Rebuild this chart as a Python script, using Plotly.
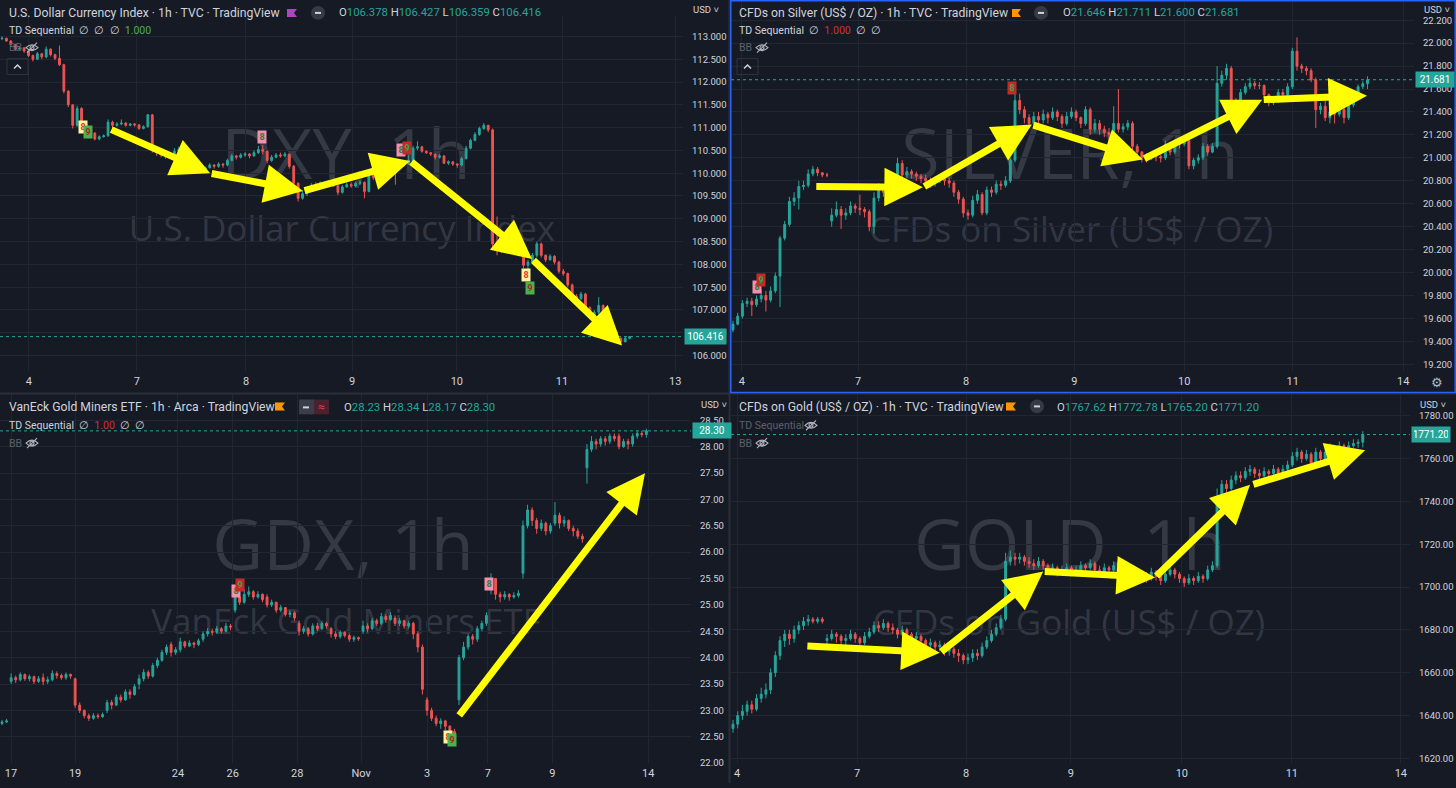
import plotly.graph_objects as go

# ---------------------------------------------------------------- data
dxy_open0 = 112.95
dxy_close = [112.96,112.90,112.82,112.72,112.75,112.68,112.58,112.50,112.62,112.55,
 112.72,112.60,112.52,112.38,111.80,111.50,111.05,111.42,111.08,110.95,
 110.88,110.75,110.80,110.82,111.12,111.05,111.08,111.10,111.05,111.08,
 111.06,110.98,111.02,111.28,110.50,110.45,110.40,110.38,110.42,110.48,
 110.52,110.38,110.30,110.15,110.05,110.08,110.12,110.18,110.15,110.20,
 110.18,110.28,110.38,110.35,110.40,110.42,110.38,110.45,110.52,110.48,
 110.28,110.35,110.40,110.38,110.42,110.15,109.78,109.45,109.55,109.62,
 109.72,109.70,109.78,109.75,109.80,109.72,109.58,109.70,109.75,109.72,
 109.78,109.80,109.60,109.95,109.90,109.98,110.05,110.12,110.28,110.22,
 110.25,110.20,110.28,110.55,110.58,110.48,110.45,110.42,110.35,110.38,
 110.22,110.25,110.20,110.18,110.32,110.55,110.72,110.85,110.98,111.05,
 110.95,108.45,108.30,108.35,108.40,108.35,108.30,108.28,107.98,108.05,
 108.20,108.45,108.20,108.10,108.18,108.05,107.85,107.80,107.55,107.30,
 107.25,107.35,107.05,106.85,106.95,107.10,106.75,106.62,106.52,106.38,
 106.30,106.378,106.416]
dxy_high = [113.00,112.97,112.92,112.84,112.78,112.76,112.70,112.60,112.66,112.64,
 112.78,112.74,112.62,112.80,112.40,111.82,111.50,111.48,111.45,111.15,
 111.00,110.90,110.83,110.85,111.18,111.15,111.12,111.18,111.12,111.10,
 111.10,111.08,111.05,111.30,111.30,110.55,110.50,110.45,110.46,110.55,
 110.58,110.55,110.42,110.32,110.18,110.12,110.15,110.22,110.20,110.24,
 110.22,110.32,110.42,110.40,110.44,110.46,110.44,110.50,110.60,110.62,
 110.50,110.40,110.44,110.45,110.46,110.42,110.18,109.80,109.62,109.66,
 109.78,109.80,109.82,109.80,109.85,109.82,109.75,109.74,109.80,109.80,
 109.82,109.85,109.82,110.00,109.98,110.02,110.10,110.18,110.32,110.32,
 110.30,110.28,110.40,110.60,110.70,110.60,110.50,110.46,110.42,110.42,
 110.40,110.28,110.26,110.22,110.36,110.60,110.76,110.90,111.02,111.10,
 111.06,110.98,109.05,108.40,108.45,108.42,108.38,108.35,108.30,108.10,
 108.25,108.50,108.48,108.22,108.22,108.20,108.08,107.90,107.82,107.58,
 107.35,107.40,107.38,107.08,107.00,107.28,107.12,106.78,106.65,106.55,
 106.40,106.43,106.427]
dxy_low = [112.92,112.88,112.80,112.68,112.70,112.64,112.55,112.45,112.48,112.50,
 112.52,112.56,112.48,112.35,111.75,111.45,110.98,111.02,111.00,110.90,
 110.82,110.72,110.72,110.78,110.80,111.00,111.02,111.05,111.02,111.03,
 111.02,110.95,110.96,111.00,110.45,110.38,110.35,110.32,110.35,110.40,
 110.44,110.32,110.20,110.10,110.00,110.02,110.05,110.10,110.10,110.12,
 110.12,110.15,110.26,110.30,110.32,110.36,110.33,110.36,110.42,110.42,
 110.22,110.25,110.33,110.34,110.35,110.10,109.72,109.38,109.42,109.50,
 109.60,109.65,109.68,109.70,109.72,109.70,109.52,109.55,109.68,109.68,
 109.70,109.74,109.45,109.58,109.85,109.88,109.95,110.02,110.10,109.75,
 110.18,110.15,110.18,110.25,110.50,110.45,110.42,110.38,110.30,110.32,
 110.20,110.18,110.16,110.12,110.15,110.30,110.52,110.70,110.82,110.95,
 110.90,108.35,108.20,108.25,108.30,108.30,108.25,108.20,107.92,107.90,
 108.02,108.15,108.15,108.05,108.08,108.00,107.80,107.75,107.50,107.25,
 107.20,107.22,107.00,106.80,106.82,106.90,106.70,106.58,106.48,106.33,
 106.27,106.30,106.359]
dxy_gap_open = {}
dxy_tick_pos = [6.1, 30.5, 55.2, 79.2, 102.9, 126.7, 152.3]
dxy_tick_lab = ["4", "7", "8", "9", "10", "11", "13"]

silver_open0 = 19.50
silver_close = [19.55,19.62,19.73,19.75,19.72,19.77,19.80,19.76,19.84,19.97,
 20.30,20.42,20.62,20.65,20.75,20.76,20.86,20.90,20.87,20.85,
 20.85,20.50,20.55,20.50,20.52,20.58,20.56,20.55,20.53,20.40,
 20.65,20.73,20.70,20.67,20.75,20.95,20.85,20.88,20.86,20.84,
 20.82,20.80,20.78,20.80,20.82,20.80,20.78,20.70,20.64,20.52,
 20.50,20.63,20.68,20.52,20.72,20.70,20.77,20.76,20.80,20.98,
 21.50,21.42,21.35,21.30,21.36,21.33,21.38,21.35,21.40,21.36,
 21.30,21.36,21.40,21.35,21.30,21.42,21.25,21.30,21.25,21.22,
 21.20,21.30,21.25,21.27,21.30,21.10,21.05,21.00,21.00,21.02,
 21.01,21.00,21.12,21.05,21.13,21.12,21.15,20.93,20.98,21.00,
 21.10,21.05,21.10,21.65,21.72,21.78,21.50,21.45,21.57,21.62,
 21.65,21.63,21.63,21.55,21.48,21.50,21.57,21.55,21.62,21.93,
 21.80,21.78,21.76,21.68,21.42,21.45,21.35,21.40,21.38,21.42,
 21.35,21.46,21.55,21.62,21.646,21.681]
silver_high = [19.58,19.65,19.76,19.78,19.78,19.80,19.85,19.84,19.88,20.00,
 20.32,20.45,20.66,20.70,20.80,20.80,20.90,20.93,20.92,20.87,
 20.87,20.56,20.62,20.58,20.56,20.62,20.60,20.68,20.57,20.55,
 20.70,20.78,20.76,20.72,20.78,21.00,20.98,20.92,20.90,20.88,
 20.86,20.85,20.83,20.84,20.86,20.85,20.83,20.80,20.72,20.66,
 20.55,20.67,20.72,20.70,20.75,20.75,20.80,20.80,20.84,21.00,
 21.58,21.56,21.45,21.38,21.40,21.40,21.42,21.40,21.44,21.42,
 21.38,21.40,21.44,21.42,21.36,21.45,21.44,21.34,21.33,21.28,
 21.26,21.45,21.60,21.30,21.33,21.32,21.12,21.06,21.04,21.05,
 21.04,21.03,21.15,21.14,21.16,21.15,21.18,21.16,21.00,21.03,
 21.13,21.12,21.13,21.80,21.76,21.82,21.80,21.52,21.60,21.65,
 21.70,21.67,21.66,21.64,21.56,21.52,21.60,21.60,21.65,21.96,
 22.05,21.82,21.80,21.78,21.70,21.48,21.50,21.43,21.45,21.45,
 21.45,21.48,21.58,21.64,21.67,21.711]
silver_low = [19.48,19.54,19.60,19.70,19.62,19.70,19.74,19.66,19.74,19.82,
 19.70,20.28,20.40,20.58,20.55,20.72,20.74,20.84,20.84,20.83,
 20.83,20.40,20.48,20.38,20.46,20.50,20.52,20.50,20.48,20.36,
 20.34,20.62,20.66,20.62,20.64,20.72,20.82,20.82,20.82,20.80,
 20.78,20.76,20.74,20.75,20.78,20.76,20.74,20.66,20.60,20.48,
 20.46,20.48,20.60,20.50,20.50,20.66,20.68,20.72,20.74,20.78,
 20.96,21.38,21.30,21.26,21.28,21.30,21.30,21.30,21.33,21.32,
 21.26,21.28,21.34,21.32,21.26,21.28,21.20,21.22,21.20,21.18,
 21.15,21.18,21.22,21.22,21.24,21.06,21.00,20.96,20.96,20.98,
 20.97,20.96,20.98,21.02,21.03,21.08,21.10,20.90,20.90,20.95,
 20.98,21.02,21.04,21.08,21.62,21.68,21.46,21.42,21.44,21.55,
 21.60,21.60,21.60,21.52,21.45,21.46,21.48,21.52,21.50,21.60,
 21.76,21.74,21.72,21.66,21.26,21.38,21.32,21.30,21.30,21.36,
 21.30,21.33,21.44,21.52,21.60,21.60]
silver_gap_open = {21: 20.45}
silver_tick_pos = [1.9, 26.6, 49.6, 72.6, 96.0, 119.1, 142.6]
silver_tick_lab = ["4", "7", "8", "9", "10", "11", "14"]

gdx_open0 = 22.75
gdx_close = [22.78,22.80,
 23.62,23.58,23.68,23.60,23.64,23.55,23.60,
 23.55,23.58,23.70,23.66,23.62,23.68,23.65,
 23.10,23.00,22.90,22.85,22.90,22.88,22.92,
 23.15,23.10,23.25,23.20,23.35,23.30,23.45,
 23.60,23.72,23.65,23.85,23.95,24.10,24.20,
 24.10,24.15,24.30,24.22,24.28,24.25,24.32,
 24.45,24.50,24.48,24.55,24.50,24.60,24.58,
 25.15,25.05,25.20,25.25,25.15,25.20,25.10,
 25.00,25.05,24.90,24.95,24.82,24.85,24.75,
 24.50,24.55,24.45,24.60,24.55,24.65,24.60,
 24.45,24.40,24.48,24.42,24.35,24.38,24.36,
 24.60,24.55,24.70,24.65,24.78,24.72,24.80,
 24.65,24.70,24.60,24.65,24.45,24.20,23.40,
 23.00,22.85,22.75,22.80,22.70,22.60,22.55,
 24.00,24.20,24.40,24.35,24.55,24.65,24.80,
 25.50,25.20,25.15,25.20,25.15,25.18,25.22,
 26.50,26.80,26.60,26.45,26.55,26.40,26.50,
 26.70,26.55,26.60,26.45,26.40,26.30,26.25,
 27.95,28.10,28.05,28.15,28.10,28.20,28.15,
 28.00,28.10,28.05,28.20,28.25,28.23,28.30]
gdx_high = [22.82,22.84,
 23.70,23.66,23.72,23.70,23.68,23.66,23.65,
 23.70,23.64,23.76,23.74,23.70,23.72,23.70,
 23.62,23.15,23.02,22.94,22.95,22.94,22.96,
 23.20,23.20,23.30,23.30,23.40,23.40,23.50,
 23.68,23.78,23.76,23.90,24.00,24.15,24.25,
 24.30,24.20,24.38,24.32,24.33,24.30,24.36,
 24.50,24.56,24.55,24.60,24.58,24.66,24.64,
 25.25,25.20,25.30,25.35,25.28,25.26,25.22,
 25.20,25.10,25.06,25.00,24.96,24.90,24.88,
 24.70,24.60,24.58,24.65,24.66,24.70,24.68,
 24.58,24.50,24.52,24.50,24.45,24.42,24.40,
 24.70,24.65,24.75,24.74,24.85,24.82,24.86,
 24.80,24.75,24.72,24.70,24.68,24.50,24.25,
 23.25,23.05,22.90,22.85,22.82,22.72,22.65,
 24.05,24.30,24.45,24.45,24.60,24.70,24.86,
 25.60,25.50,25.25,25.26,25.22,25.24,25.28,
 26.60,26.90,26.85,26.65,26.62,26.58,26.55,
 26.95,26.75,26.68,26.62,26.50,26.45,26.35,
 28.05,28.20,28.15,28.20,28.20,28.25,28.25,
 28.25,28.15,28.15,28.25,28.30,28.30,28.34]
gdx_low = [22.72,22.76,
 23.50,23.52,23.55,23.56,23.55,23.50,23.52,
 23.48,23.50,23.55,23.60,23.58,23.58,23.60,
 23.05,22.95,22.85,22.80,22.82,22.84,22.86,
 22.95,23.02,23.08,23.15,23.18,23.22,23.28,
 23.40,23.55,23.60,23.62,23.80,23.92,24.05,
 24.02,24.05,24.10,24.18,24.20,24.18,24.22,
 24.30,24.40,24.42,24.45,24.46,24.48,24.52,
 24.85,25.00,25.02,25.15,25.10,25.12,25.05,
 24.95,24.96,24.85,24.86,24.78,24.76,24.70,
 24.42,24.45,24.40,24.42,24.50,24.52,24.55,
 24.38,24.35,24.36,24.38,24.30,24.30,24.32,
 24.45,24.48,24.52,24.60,24.62,24.66,24.70,
 24.60,24.60,24.55,24.55,24.35,24.10,23.30,
 22.90,22.80,22.70,22.65,22.62,22.55,22.48,
 23.10,23.95,24.15,24.25,24.30,24.50,24.60,
 25.20,25.10,25.05,25.10,25.08,25.12,25.14,
 25.50,26.45,26.50,26.35,26.40,26.32,26.35,
 26.50,26.45,26.48,26.40,26.30,26.25,26.18,
 27.30,27.90,27.95,28.00,28.02,28.05,28.10,
 27.95,27.98,27.95,28.00,28.15,28.18,28.17]
gdx_gap_open = {2: 23.55, 9: 23.62, 16: 23.60, 23: 23.00, 30: 23.50, 37: 24.25,
 44: 24.35, 51: 24.90, 58: 25.15, 65: 24.65, 72: 24.55, 79: 24.50, 86: 24.75,
 93: 23.20, 100: 23.20, 107: 25.30, 114: 25.60, 121: 26.55, 128: 27.60, 135: 28.20}
gdx_tick_pos = [1.97, 16.0, 38.5, 50.5, 64.6, 78.6, 93.0, 106.3, 120.4, 141.4]
gdx_tick_lab = ["17", "19", "24", "26", "28", "Nov", "3", "7", "9", "14"]

gold_open0 = 1634
gold_close = [1636,1640,1642,1645,1643,1648,1650,1652,1660,1668,
 1675,1678,1676,1680,1682,1684,1685,1684,1685,1684,
 1676,1678,1677,1675,1676,1678,1676,1674,1677,1679,
 1682,1681,1683,1681,1680,1678,1680,1678,1676,1677,
 1675,1673,1674,1672,1673,1670,1671,1669,1668,1666,
 1667,1669,1668,1672,1675,1678,1681,1685,1712,1714,
 1713,1714,1712,1711,1710,1712,1710,1708,1709,1707,
 1708,1709,1707,1708,1710,1709,1711,1708,1707,1709,
 1708,1710,1711,1709,1708,1707,1705,1706,1704,1707,
 1705,1703,1706,1708,1706,1704,1702,1704,1703,1705,
 1704,1708,1710,1742,1748,1746,1750,1752,1751,1754,
 1755,1753,1752,1754,1753,1755,1752,1755,1757,1761,
 1763,1760,1762,1758,1763,1760,1763,1765,1764,1766,
 1765,1766,1767,1767.62,1771.20]
gold_high = [1638,1642,1645,1647,1647,1650,1653,1655,1662,1670,
 1677,1680,1680,1682,1684,1686,1687,1686,1686,1686,
 1678,1680,1679,1678,1678,1680,1679,1677,1679,1681,
 1684,1684,1685,1684,1683,1681,1682,1681,1679,1679,
 1678,1676,1676,1675,1675,1674,1673,1672,1671,1669,
 1669,1671,1671,1674,1677,1680,1683,1687,1716,1717,
 1716,1716,1715,1714,1713,1714,1713,1711,1711,1710,
 1710,1711,1710,1710,1712,1711,1713,1712,1710,1711,
 1710,1712,1713,1712,1710,1709,1708,1708,1707,1709,
 1708,1706,1708,1710,1709,1707,1705,1706,1705,1707,
 1706,1710,1712,1746,1750,1750,1752,1754,1754,1756,
 1757,1756,1755,1756,1755,1757,1756,1757,1759,1763,
 1765,1764,1764,1763,1765,1764,1765,1767,1766,1768,
 1767,1768,1769,1769,1772.78]
gold_low = [1632,1634,1638,1640,1641,1642,1646,1648,1650,1658,
 1666,1672,1673,1674,1678,1680,1682,1683,1683,1683,
 1673,1675,1674,1672,1673,1675,1674,1672,1673,1676,
 1678,1679,1680,1679,1678,1676,1677,1676,1674,1674,
 1673,1671,1671,1670,1670,1668,1668,1667,1665,1664,
 1664,1665,1666,1667,1671,1674,1677,1680,1684,1710,
 1710,1711,1710,1709,1708,1709,1708,1706,1706,1705,
 1706,1706,1705,1706,1707,1707,1708,1706,1705,1706,
 1706,1707,1709,1707,1706,1705,1703,1703,1702,1703,
 1703,1701,1702,1705,1704,1702,1700,1701,1701,1702,
 1702,1703,1707,1709,1740,1744,1745,1748,1749,1750,
 1752,1751,1750,1751,1751,1752,1750,1751,1754,1756,
 1759,1758,1759,1756,1757,1758,1759,1761,1762,1763,
 1763,1764,1765,1765,1765.20]
gold_gap_open = {20: 1675}
gold_tick_pos = [0.85, 26.4, 49.6, 71.9, 95.5, 118.9, 142.1]
gold_tick_lab = ["4", "7", "8", "9", "10", "11", "14"]

# user-drawn arrows: (tail bar, tail price, tip bar, tip price)
dxy_arrows = [(24.4, 110.97, 47.1, 110.00), (47.1, 110.00, 68.1, 109.61),
              (68.1, 109.61, 92.3, 110.27), (92.3, 110.27, 119.9, 108.12),
              (119.9, 108.12, 140.3, 106.22)]
silver_arrows = [(17.4, 20.751, 40.4, 20.743), (40.4, 20.743, 63.6, 21.290),
                 (63.6, 21.290, 87.2, 20.986), (87.2, 20.986, 112.6, 21.507),
                 (112.6, 21.507, 134.9, 21.542)]
gdx_arrows = [(99.8, 22.875, 140.7, 27.496)]
gold_arrows = [(15.5, 1672.5, 44.0, 1669.3), (44.0, 1669.3, 66.0, 1707.3),
               (66.0, 1707.3, 89.8, 1704.5), (89.8, 1704.5, 110.0, 1747.7),
               (110.4, 1747.7, 134.5, 1763.9)]

# TD Sequential counts: (bar, price, digit, kind)
dxy_td = [(18.4, 111.02, "8", "buy8"), (19.5, 110.90, "9", "buy9"),
          (58.8, 110.80, "8", "sell8"), (90.3, 110.51, "8", "sell8"),
          (91.6, 110.55, "9", "sell9"), (118.6, 107.76, "8", "buy8"),
          (119.5, 107.49, "9", "buy9")]
silver_td = [(5.0, 19.878, "8", "sell8"), (6.0, 19.935, "9", "sell9"),
             (59.4, 21.61, "8", "sell9")]
gdx_td = [(51.2, 25.26, "8", "sell8"), (52.1, 25.375, "9", "sell9"),
          (106.6, 25.39, "8", "sell8"), (97.6, 22.49, "8", "buy8"),
          (98.5, 22.44, "9", "buy9")]
gold_td = []

# ---------------------------------------------------------------- style
W, H = 1456, 788
BG = "#161a25"
GRID = "#222632"
TXT = "#d1d4dc"
DIM = "#5d606b"
UP = "#26a69a"
DN = "#ef5350"
WMC = "rgba(125,129,141,0.30)"
YEL = "#ffff00"
FONT = "Roboto, sans-serif"
WMFONT = "Open Sans, sans-serif"
NUMFONT = "Roboto, sans-serif"
TDSTYLE = {"buy8": ("#fff59d", "#e53935"), "buy9": ("#4caf50", "#b71c1c"),
           "sell8": ("#f48fb1", "#2e7d32"), "sell9": ("#c62828", "#43a047")}


def X(p):
    return p / W


def Y(p):
    return 1 - p / H


def path(*segs):
    out = []
    for s in segs:
        nums = s[1:]
        pts = ["%.5f,%.5f" % (X(nums[i]), Y(nums[i + 1])) for i in range(0, len(nums), 2)]
        out.append(s[0] + " ".join(pts))
    return " ".join(out)


# box = (left px, right px, top px, bottom px) of each price pane; hdr = pane top for the header items
panels = [
    dict(o0=dxy_open0, c=dxy_close, h=dxy_high, l=dxy_low, gaps=dxy_gap_open,
         box=(0, 683, 16, 373), hdr=0, ppb=4.42, xf=2.0, yr=(105.67, 113.45), dtick=0.5, fmt=".3f",
         tv=dxy_tick_pos, tt=dxy_tick_lab, arrows=dxy_arrows, td=dxy_td, dec=3),
    dict(o0=silver_open0, c=silver_close, h=silver_high, l=silver_low, gaps=silver_gap_open,
         box=(731, 1414, 0, 373), hdr=0, ppb=4.70, xf=733.0, yr=(19.145, 22.376), dtick=0.2, fmt=".3f",
         tv=silver_tick_pos, tt=silver_tick_lab, arrows=silver_arrows, td=silver_td, dec=3),
    dict(o0=gdx_open0, c=gdx_close, h=gdx_high, l=gdx_low, gaps=gdx_gap_open,
         box=(0, 691, 397, 768), hdr=397, ppb=4.57, xf=2.0, yr=(22.00, 28.99), dtick=0.5, fmt=".2f",
         tv=gdx_tick_pos, tt=gdx_tick_lab, arrows=gdx_arrows, td=gdx_td, dec=2),
    dict(o0=gold_open0, c=gold_close, h=gold_high, l=gold_low, gaps=gold_gap_open,
         box=(731, 1410, 397, 768), hdr=397, ppb=4.70, xf=733.0, yr=(1617.8, 1789.9), dtick=20, fmt=".2f",
         tv=gold_tick_pos, tt=gold_tick_lab, arrows=gold_arrows, td=gold_td, dec=2),
]

fig = go.Figure()
layout = dict(width=W, height=H, margin=dict(l=0, r=0, t=0, b=0),
              paper_bgcolor=BG, plot_bgcolor="rgba(0,0,0,0)", showlegend=False,
              boxgap=0.42, hovermode=False)
shapes = []
ann = []

for k, p in enumerate(panels):
    sfx = "" if k == 0 else str(k + 1)
    xa, ya = "x" + sfx, "y" + sfx
    n = len(p["c"])
    opens = [p["o0"]] + p["c"][:-1]
    for i, v in p["gaps"].items():
        opens[i] = v
    hi = [max(a, b, c) for a, b, c in zip(p["h"], opens, p["c"])]
    lo = [min(a, b, c) for a, b, c in zip(p["l"], opens, p["c"])]
    p["opens"], p["hi"], p["lo"] = opens, hi, lo
    fig.add_trace(go.Candlestick(
        x=list(range(n)), open=opens, high=hi, low=lo, close=p["c"],
        xaxis=xa, yaxis=ya, whiskerwidth=0, hoverinfo="skip", showlegend=False,
        increasing=dict(line=dict(color=UP, width=1), fillcolor=UP),
        decreasing=dict(line=dict(color=DN, width=1), fillcolor=DN)))
    x0p, x1p, y0p, y1p = p["box"]
    layout["xaxis" + sfx] = dict(
        domain=[x0p / W, x1p / W], range=[(x0p - p["xf"]) / p["ppb"], (x1p - p["xf"]) / p["ppb"]],
        anchor=ya, tickmode="array", tickvals=p["tv"], ticktext=p["tt"],
        showgrid=True, gridcolor=GRID, gridwidth=1, zeroline=False, showline=False, ticks="",
        tickfont=dict(size=11, color=TXT, family=FONT), ticklabelstandoff=2,
        rangeslider=dict(visible=False), fixedrange=True)
    layout["yaxis" + sfx] = dict(
        domain=[1 - y1p / H, 1 - y0p / H], range=list(p["yr"]), anchor=xa, side="right",
        dtick=p["dtick"], tick0=0, tickformat=p["fmt"], showgrid=True, gridcolor=GRID, gridwidth=1,
        zeroline=False, showline=False, ticks="", ticklabelstandoff=8,
        tickfont=dict(size=9.5, color=TXT, family=NUMFONT), fixedrange=True)

    # last price dotted line and label
    last = p["c"][-1]
    shapes.append(dict(type="line", xref=xa + " domain", yref=ya, x0=0, x1=1, y0=last, y1=last,
                       line=dict(color=UP, width=1, dash="dot")))
    ann.append(dict(x=X(x1p + 1), y=last, xref="paper", yref=ya, xanchor="left", yanchor="middle",
                    text=("%." + str(p["dec"]) + "f") % last, showarrow=False, bgcolor=UP,
                    font=dict(size=10, color="#ffffff", family=NUMFONT), borderpad=2,
                    width=37 if p["dec"] == 3 and last > 100 else 34))
    # yellow arrows
    for (ax_, ay_, tx, ty) in p["arrows"]:
        ann.append(dict(x=tx, y=ty, ax=ax_, ay=ay_, xref=xa, yref=ya, axref=xa, ayref=ya,
                        text="", showarrow=True, arrowhead=2, arrowsize=1.1, arrowwidth=7,
                        arrowcolor=YEL, standoff=0, startstandoff=0))
    # TD sequential count boxes
    for (bx, by, dg, kind) in p["td"]:
        bg, fg = TDSTYLE[kind]
        ann.append(dict(x=bx, y=by, xref=xa, yref=ya, text="<b>%s</b>" % dg, showarrow=False,
                        bgcolor=bg, font=dict(size=9, color=fg, family=FONT), borderpad=0,
                        width=8, height=12))
    # USD label
    ann.append(dict(x=X(x1p + 8), y=Y(p["hdr"] + 10), xref="paper", yref="paper", xanchor="left",
                    yanchor="middle", text="USD ˅", showarrow=False, bgcolor=BG,
                    font=dict(size=9.5, color=TXT, family=FONT)))

layout["annotations"] = ann
fig.update_layout(**layout)

# ---------------------------------------------------------------- watermarks
wm = [("DXY, 1h", 346, 158, 70), ("U.S. Dollar Currency Index", 342, 231, 35),
      ("SILVER, 1h", 1070, 158, 70), ("CFDs on Silver (US$ / OZ)", 1071, 232, 35),
      ("GDX, 1h", 343, 552, 70), ("VanEck Gold Miners ETF", 346, 626, 35),
      ("GOLD, 1h", 1070, 552, 70), ("CFDs on Gold (US$ / OZ)", 1069, 627, 35)]
for t, cx, cy, fs in wm:
    shapes.append(dict(type="rect", xref="paper", yref="paper", layer="below",
                       x0=X(cx - 330), x1=X(cx + 330), y0=Y(cy + 50), y1=Y(cy - 50),
                       line=dict(width=0), fillcolor="rgba(0,0,0,0)",
                       label=dict(text=t, textposition="middle center",
                                  font=dict(size=fs, color=WMC, family=WMFONT))))


def text(x, y, t, size=12.2, color=TXT, anchor="left", family=FONT):
    fig.add_annotation(x=X(x), y=Y(y), xref="paper", yref="paper", text=t, showarrow=False,
                       xanchor=anchor, yanchor="middle", font=dict(size=size, color=color, family=family))


def flag(x0, y0, x1, y1, col):
    ym = (y0 + y1) / 2
    shapes.append(dict(type="path", xref="paper", yref="paper",
                       path=path(("M", x0, y0), ("L", x1, y0), ("L", x1 - 3, ym), ("L", x1, y1),
                                 ("L", x0, y1), ("Z",)), fillcolor=col, line=dict(width=0)))


def circ_minus(cx, cy):
    shapes.append(dict(type="circle", xref="paper", yref="paper", x0=X(cx - 7), x1=X(cx + 7),
                       y0=Y(cy + 7), y1=Y(cy - 7), fillcolor="#363a45", line=dict(width=0)))
    shapes.append(dict(type="line", xref="paper", yref="paper", x0=X(cx - 3), x1=X(cx + 3),
                       y0=Y(cy), y1=Y(cy), line=dict(color=TXT, width=2)))


def eye(cx, cy, col):
    shapes.append(dict(type="path", xref="paper", yref="paper",
                       path=path(("M", cx - 6, cy), ("Q", cx, cy - 6, cx + 6, cy),
                                 ("Q", cx, cy + 6, cx - 6, cy), ("Z",)),
                       line=dict(color=col, width=1.1)))
    shapes.append(dict(type="circle", xref="paper", yref="paper", x0=X(cx - 2), x1=X(cx + 2),
                       y0=Y(cy + 2), y1=Y(cy - 2), line=dict(color=col, width=1.1)))
    shapes.append(dict(type="line", xref="paper", yref="paper", x0=X(cx - 5), x1=X(cx + 5),
                       y0=Y(cy + 5), y1=Y(cy - 5), line=dict(color=col, width=1.1)))


def collapse(x0, y0):
    shapes.append(dict(type="rect", xref="paper", yref="paper", x0=X(x0), x1=X(x0 + 21),
                       y0=Y(y0 + 16), y1=Y(y0), line=dict(color="#2f3340", width=1)))
    shapes.append(dict(type="path", xref="paper", yref="paper",
                       path=path(("M", x0 + 7, y0 + 10), ("L", x0 + 10.5, y0 + 6.5), ("L", x0 + 14, y0 + 10)),
                       line=dict(color=TXT, width=1.5)))


def ohlc(p):
    fm = "%." + str(p["dec"]) + "f"
    vals = [("O", p["opens"][-1]), ("H", p["hi"][-1]), ("L", p["lo"][-1]), ("C", p["c"][-1])]
    return " ".join("%s<span style='color:%s'>%s</span>" % (a, UP, fm % v) for a, v in vals)


titles = ["U.S. Dollar Currency Index · 1h · TVC · TradingView",
          "CFDs on Silver (US$ / OZ) · 1h · TVC · TradingView",
          "VanEck Gold Miners ETF · 1h · Arca · TradingView",
          "CFDs on Gold (US$ / OZ) · 1h · TVC · TradingView"]
E = "∅"

# top-left
text(7, 13, titles[0])
flag(287, 9, 297, 17, "#ab47bc")
circ_minus(318, 13)
text(337, 13, ohlc(panels[0]), 11.3)
text(7, 31, "TD Sequential  %s  %s  %s  <span style='color:#4caf50'>1.000</span>" % (E, E, E), 10.5)
text(7, 48, "BB", 10.5, DIM)
eye(32, 48, "#b2b5be")
collapse(7, 59)
# top-right
text(737, 13, titles[1])
flag(1012, 9, 1021, 17, "#ff9800")
circ_minus(1041, 13)
text(1061, 13, ohlc(panels[1]), 11.3)
text(737, 31, "TD Sequential  %s  <span style='color:#d32f2f'>1.000</span>  %s  %s" % (E, E, E), 10.5)
text(737, 48, "BB", 10.5, DIM)
eye(762, 48, "#b2b5be")
collapse(737, 59)
# bottom-left
text(7, 410, titles[2])
flag(275, 405, 285, 413, "#ff9800")
shapes.append(dict(type="rect", xref="paper", yref="paper", x0=X(299), x1=X(314), y0=Y(417), y1=Y(402),
                   fillcolor="#3a3e4a", line=dict(width=0)))
shapes.append(dict(type="rect", xref="paper", yref="paper", x0=X(314), x1=X(329), y0=Y(417), y1=Y(402),
                   fillcolor="#48222f", line=dict(width=0)))
shapes.append(dict(type="line", xref="paper", yref="paper", x0=X(303), x1=X(309), y0=Y(410), y1=Y(410),
                   line=dict(color=TXT, width=2)))
text(321.5, 409.5, "≈", 12, "#f23645", "center")
text(342, 410, ohlc(panels[2]), 11.3)
text(7, 428, "TD Sequential  %s  <span style='color:#d32f2f'>1.00</span>  %s  %s" % (E, E, E), 10.5)
text(7, 446, "BB", 10.5, DIM)
eye(32, 446, "#b2b5be")
# bottom-right
text(737, 410, titles[3])
flag(1006, 405, 1016, 413, "#ff9800")
circ_minus(1037, 409)
text(1055, 410, ohlc(panels[3]), 11.3)
text(737, 428, "TD Sequential", 10.5, DIM)
eye(811, 428, "#b2b5be")
text(737, 446, "BB", 10.5, DIM)
eye(762, 446, "#b2b5be")
# gear
text(1437, 385, "⚙", 13, "#b2b5be", "center")

# panel separators and active-pane border
shapes.append(dict(type="line", xref="paper", yref="paper", x0=X(729.5), x1=X(729.5), y0=0, y1=1,
                   line=dict(color="#2a2e39", width=2)))
shapes.append(dict(type="line", xref="paper", yref="paper", x0=0, x1=1, y0=Y(396), y1=Y(396),
                   line=dict(color="#2a2e39", width=2)))
shapes.append(dict(type="rect", xref="paper", yref="paper", x0=X(730.8), x1=X(1455.2), y0=Y(395),
                   y1=Y(0.8), line=dict(color="#2962ff", width=1.5)))

fig.update_layout(shapes=shapes)
fig.write_html("out.html", config={"displayModeBar": False},
               post_script="document.body.style.margin='0px';document.body.style.overflow='hidden';document.body.style.background='%s';" % BG)
